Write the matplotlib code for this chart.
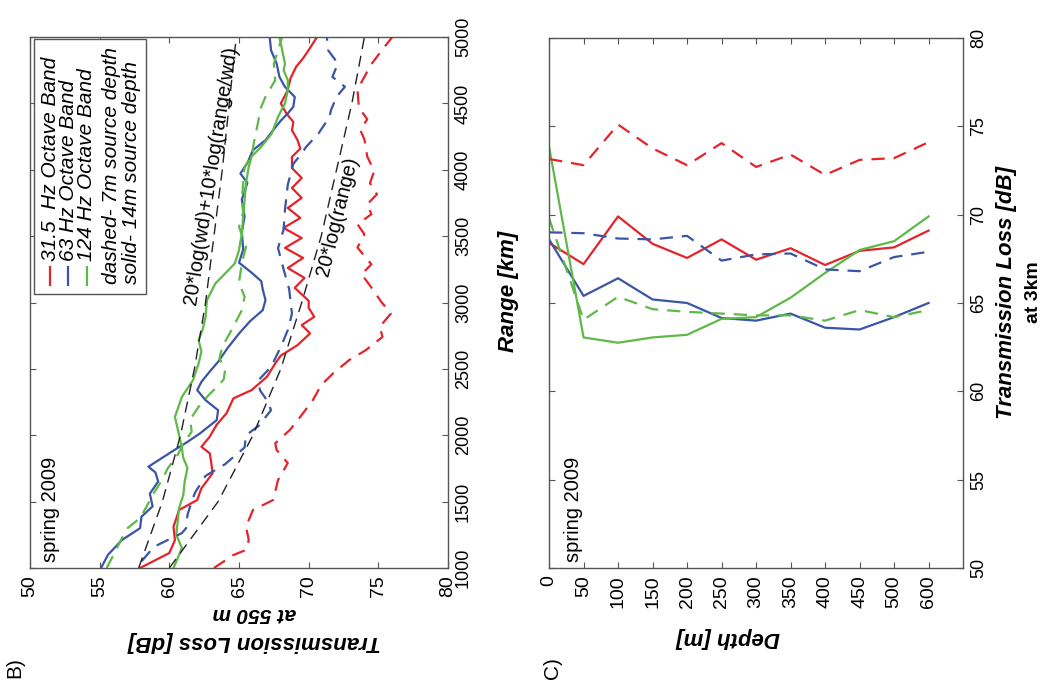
import matplotlib
matplotlib.use('Agg')
import matplotlib.pyplot as plt
from matplotlib.patches import Rectangle
import numpy as np

plt.rcParams['font.family'] = ['Liberation Sans', 'DejaVu Sans']

# === panel B: transmission loss vs range (receiver at 550 m) ===
R_RED_SOLID = [1000, 1113, 1210, 1311, 1437, 1512, 1600, 1713, 1800, 1864, 1913, 1989, 2080,
               2165, 2278, 2340, 2440, 2541, 2600, 2679, 2767, 2830, 2892, 2960, 3013, 3110,
               3185, 3260, 3336, 3411, 3486, 3562, 3637, 3712, 3788, 3863, 3938, 4013, 4097,
               4160, 4223, 4298, 4360, 4424, 4500, 4600, 4690, 4776, 4840, 4902, 5000]
TL_RED_SOLID = [57.9, 60.0, 60.4, 60.3, 60.7, 62.0, 62.3, 63.1, 63.0, 62.9, 62.3, 62.9, 63.4,
                64.1, 64.6, 65.9, 67.0, 67.6, 68.0, 69.2, 70.1, 69.5, 70.4, 70.0, 70.0, 69.0,
                69.7, 68.5, 69.6, 68.3, 69.5, 68.2, 69.4, 68.5, 69.5, 68.8, 69.5, 68.8, 68.8,
                69.4, 69.2, 68.8, 68.9, 68.4, 68.0, 68.5, 68.7, 69.1, 69.6, 70.0, 70.6]

R_RED_DASH = [1000, 1098, 1136, 1211, 1311, 1437, 1512, 1663, 1790, 1889, 1939, 2040, 2139,
              2265, 2378, 2466, 2566, 2641, 2741, 2817, 2917, 3006, 3113, 3213, 3288, 3414,
              3514, 3590, 3665, 3740, 3815, 3900, 3990, 4100, 4229, 4300, 4380, 4470, 4605,
              4700, 4781, 4880, 5000]
TL_RED_DASH = [63.2, 64.6, 65.5, 65.7, 65.5, 66.0, 67.45, 67.8, 68.5, 67.7, 67.6, 68.65, 69.4,
               70.3, 70.9, 71.75, 72.9, 74.1, 75.3, 75.1, 75.9, 75.2, 74.5, 73.8, 74.5, 73.5,
               74.0, 73.5, 74.5, 74.2, 74.9, 74.4, 74.7, 74.2, 74.0, 73.7, 74.2, 73.6, 73.5,
               74.0, 74.4, 75.1, 76.0]

R_BLUE_SOLID = [1000, 1100, 1211, 1300, 1387, 1464, 1560, 1652, 1720, 1763, 1878, 1950, 2014,
                2114, 2189, 2264, 2340, 2402, 2480, 2553, 2660, 2766, 2860, 2942, 3018, 3100,
                3160, 3225, 3300, 3400, 3525, 3650, 3776, 3901, 3972, 4050, 4148, 4223, 4298,
                4370, 4424, 4475, 4549, 4624, 4700, 4800, 4900, 5000]
TL_BLUE_SOLID = [55.1, 55.6, 56.6, 57.9, 58.0, 58.8, 58.6, 59.2, 59.0, 58.5, 60.2, 61.3, 62.2,
                 63.4, 63.5, 62.6, 62.0, 62.3, 62.9, 63.5, 64.2, 65.0, 65.8, 66.7, 66.9, 66.7,
                 66.6, 65.9, 65.0, 65.3, 65.2, 65.4, 65.2, 65.6, 65.1, 65.6, 66.0, 66.9, 67.45,
                 68.0, 68.5, 68.9, 69.0, 68.3, 67.9, 67.7, 67.3, 67.2]

R_BLUE_DASH = [1050, 1160, 1263, 1300, 1400, 1500, 1569, 1694, 1782, 1908, 2000, 2070, 2189,
               2264, 2340, 2415, 2515, 2666, 2792, 2917, 3006, 3100, 3250, 3410, 3550, 3700,
               3888, 4004, 4045, 4123, 4170, 4273, 4398, 4449, 4550, 4625, 4700, 4800, 4900, 5000]
TL_BLUE_DASH = [58.0, 58.9, 60.9, 61.2, 61.3, 61.6, 61.85, 62.6, 64.0, 65.4, 65.5, 66.4, 67.3,
                67.0, 66.5, 66.4, 67.3, 68.0, 68.5, 68.8, 68.7, 68.6, 68.2, 67.8, 68.2, 68.3,
                68.5, 68.8, 68.9, 69.5, 69.8, 70.7, 71.5, 71.6, 72.0, 72.6, 71.7, 72.1, 71.4, 71.3]

R_GREEN_SOLID = [1000, 1150, 1250, 1350, 1452, 1550, 1652, 1753, 1830, 1903, 2001, 2138, 2289,
                 2415, 2541, 2630, 2716, 2800, 2892, 3018, 3143, 3218, 3294, 3394, 3520, 3650,
                 3771, 3900, 4022, 4100, 4173, 4273, 4399, 4500, 4600, 4675, 4750, 4800, 4900, 5000]
TL_GREEN_SOLID = [60.3, 60.9, 60.5, 60.6, 60.7, 61.0, 61.1, 61.3, 61.0, 60.9, 60.7, 60.4, 60.9,
                  61.7, 62.1, 62.3, 62.1, 62.4, 62.6, 62.7, 63.3, 64.0, 64.7, 65.0, 65.2, 65.3,
                  65.4, 65.5, 65.7, 65.9, 66.6, 67.35, 67.8, 68.3, 68.5, 68.5, 68.2, 68.3, 68.1, 67.9]

R_GREEN_DASH = [1000, 1100, 1226, 1300, 1376, 1450, 1550, 1650, 1753, 1853, 1953, 2026, 2120,
                2214, 2300, 2352, 2420, 2490, 2580, 2666, 2800, 2942, 3043, 3150, 3294, 3420,
                3570, 3680, 3771, 3900, 4022, 4100, 4223, 4374, 4450, 4550, 4675, 4800, 4900, 5000]
TL_GREEN_DASH = [55.5, 56.0, 56.6, 57.0, 57.9, 58.3, 58.8, 59.4, 59.9, 60.6, 61.1, 61.6, 61.5,
                 62.1, 62.8, 63.3, 63.9, 64.0, 63.6, 63.8, 64.5, 65.2, 65.4, 65.0, 65.2, 65.5,
                 65.0, 65.3, 65.2, 65.3, 65.4, 65.9, 66.1, 66.4, 66.5, 66.9, 67.6, 67.5, 67.8, 68.1]

# reference spreading curves
R_THEORY = [1000, 1500, 2000, 2500, 3000, 3500, 4000, 4500, 5000]
TL_SPHERICAL = [60.0, 63.5, 66.0, 68.0, 69.5, 70.9, 72.0, 73.1, 74.0]
TL_MIXED = [57.8, 59.5, 60.8, 61.8, 62.6, 63.2, 63.8, 64.3, 64.8]

# === panel C: transmission loss at 3 km vs depth ===
DEPTH_LABELS = ['0', '50', '100', '150', '200', '250', '300', '350', '400', '450', '500', '600']
C_RED_SOLID = [68.4, 67.2, 69.9, 68.35, 67.55, 68.6, 67.45, 68.1, 67.15, 67.95, 68.15, 69.1]
C_RED_DASH = [73.15, 72.8, 75.1, 73.75, 72.8, 74.05, 72.7, 73.4, 72.25, 73.1, 73.2, 74.1]
C_BLUE_SOLID = [68.6, 65.4, 66.4, 65.2, 65.0, 64.15, 64.0, 64.4, 63.6, 63.5, 64.2, 65.0]
C_BLUE_DASH = [69.0, 68.95, 68.65, 68.6, 68.8, 67.4, 67.75, 67.8, 66.9, 66.8, 67.6, 67.9]
C_GREEN_SOLID = [73.85, 63.05, 62.75, 63.05, 63.2, 64.1, 64.2, 65.3, 66.7, 68.0, 68.5, 69.9]
C_GREEN_DASH = [69.8, 64.05, 65.35, 64.65, 64.5, 64.4, 64.3, 64.3, 64.0, 64.6, 64.2, 64.6]

RED = '#e4232b'
BLUE = '#3a55a5'
GREEN = '#5fb948'
SPINE = '#555555'
DASH = (0, (6, 4))
BDASH = (0, (8, 5))

fig = plt.figure(figsize=(10.49, 6.92), dpi=100)
axB = fig.add_axes([0.0286, 0.1792, 0.3985, 0.7673])
axC = fig.add_axes([0.5234, 0.1792, 0.3947, 0.7659])


def style_axes(ax):
    for s in ax.spines.values():
        s.set_color(SPINE)
        s.set_linewidth(1.0)
    ax.tick_params(which='both', direction='in', length=4, width=0.8, color=SPINE,
                   top=True, bottom=True, left=True, right=True,
                   labelleft=False, labelright=True, labelsize=13, pad=5)
    ax.tick_params(axis='x', labelrotation=90, labelsize=14)
    ax.tick_params(axis='y', labelrotation=90)
    for lbl in ax.get_yticklabels():
        lbl.set_va('center')
        lbl.set_ha('left')


# ---- panel B ----
lw = 1.6
axB.plot(TL_RED_SOLID, R_RED_SOLID, color=RED, lw=lw)
axB.plot(TL_BLUE_SOLID, R_BLUE_SOLID, color=BLUE, lw=lw)
axB.plot(TL_GREEN_SOLID, R_GREEN_SOLID, color=GREEN, lw=lw)
axB.plot(TL_RED_DASH, R_RED_DASH, color=RED, lw=lw, ls=DASH)
axB.plot(TL_BLUE_DASH, R_BLUE_DASH, color=BLUE, lw=lw, ls=DASH)
axB.plot(TL_GREEN_DASH, R_GREEN_DASH, color=GREEN, lw=lw, ls=DASH)
axB.plot(TL_SPHERICAL, R_THEORY, color='#222222', lw=1.0, ls=BDASH)
axB.plot(TL_MIXED, R_THEORY, color='#222222', lw=1.0, ls=BDASH)

axB.set_xlim(50, 80)
axB.set_ylim(1000, 5000)
axB.set_xticks(np.arange(50, 81, 5))
axB.set_yticks(np.arange(1000, 5001, 500))
style_axes(axB)

axB.text(63.0, 3960, '20*log(wd)+10*log(range/wd)', rotation=81, fontsize=14.5,
         ha='center', va='center', rotation_mode='anchor')
axB.text(72.1, 3650, '20*log(range)', rotation=76, fontsize=14.5,
         ha='center', va='center', rotation_mode='anchor')
axB.text(0.048, 0.012, 'spring 2009', transform=axB.transAxes, rotation=90,
         fontsize=14.5, ha='center', va='bottom')

# legend drawn rotated to match the page orientation
axB.add_patch(Rectangle((0.0096, 0.516), 0.268, 0.48, transform=axB.transAxes,
                        facecolor='white', edgecolor=SPINE, lw=1.0, zorder=5))
leg_items = [('31.5  Hz Octave Band', RED, 0.048),
             ('63 Hz Octave Band', BLUE, 0.091),
             ('124 Hz Octave Band', GREEN, 0.136)]
for label, col, xx in leg_items:
    axB.plot([xx, xx], [0.533, 0.567], color=col, lw=lw, transform=axB.transAxes, zorder=6)
    axB.text(xx, 0.578, label, transform=axB.transAxes, rotation=90, fontsize=15,
             ha='center', va='bottom', zorder=6, style='italic')
axB.text(0.196, 0.535, 'dashed- 7m source depth', transform=axB.transAxes, rotation=90,
         fontsize=15, ha='center', va='bottom', style='italic', zorder=6)
axB.text(0.244, 0.535, 'solid- 14m source depth', transform=axB.transAxes, rotation=90,
         fontsize=15, ha='center', va='bottom', style='italic', zorder=6)

axB.text(1.145, 0.52, 'Range [km]', transform=axB.transAxes, rotation=90, fontsize=16,
         fontweight='bold', style='italic', ha='center', va='center')
axB.text(0.536, -0.139, 'Transmission Loss [dB]', transform=axB.transAxes, rotation=180,
         fontsize=16, fontweight='bold', style='italic', ha='center', va='center')
axB.text(0.536, -0.085, 'at 550 m', transform=axB.transAxes, rotation=180,
         fontsize=15, fontweight='bold', style='italic', ha='center', va='center')

# ---- panel C ----
idx = np.arange(len(DEPTH_LABELS))
axC.plot(idx, C_RED_SOLID, color=RED, lw=lw)
axC.plot(idx, C_BLUE_SOLID, color=BLUE, lw=lw)
axC.plot(idx, C_GREEN_SOLID, color=GREEN, lw=lw)
axC.plot(idx, C_RED_DASH, color=RED, lw=lw, ls=DASH)
axC.plot(idx, C_BLUE_DASH, color=BLUE, lw=lw, ls=DASH)
axC.plot(idx, C_GREEN_DASH, color=GREEN, lw=lw, ls=DASH)
axC.set_xlim(0, 12)
axC.set_ylim(50, 80)
axC.set_xticks(idx)
axC.set_xticklabels(DEPTH_LABELS)
axC.set_yticks(np.arange(50, 81, 5))
style_axes(axC)

axC.text(0.058, 0.012, 'spring 2009', transform=axC.transAxes, rotation=90,
         fontsize=14.5, ha='center', va='bottom')
axC.text(1.106, 0.52, 'Transmission Loss [dB]', transform=axC.transAxes, rotation=90,
         fontsize=16, fontweight='bold', style='italic', ha='center', va='center')
axC.text(1.17, 0.52, 'at 3km', transform=axC.transAxes, rotation=90,
         fontsize=14, fontweight='bold', ha='center', va='center')
axC.text(0.433, -0.132, 'Depth [m]', transform=axC.transAxes, rotation=180,
         fontsize=16, fontweight='bold', style='italic', ha='center', va='center')

fig.text(0.0143, 0.035, 'B)', rotation=90, fontsize=15, ha='center', va='center')
fig.text(0.527, 0.035, 'C)', rotation=90, fontsize=15, ha='center', va='center')

fig.savefig('out.png', dpi=100)
